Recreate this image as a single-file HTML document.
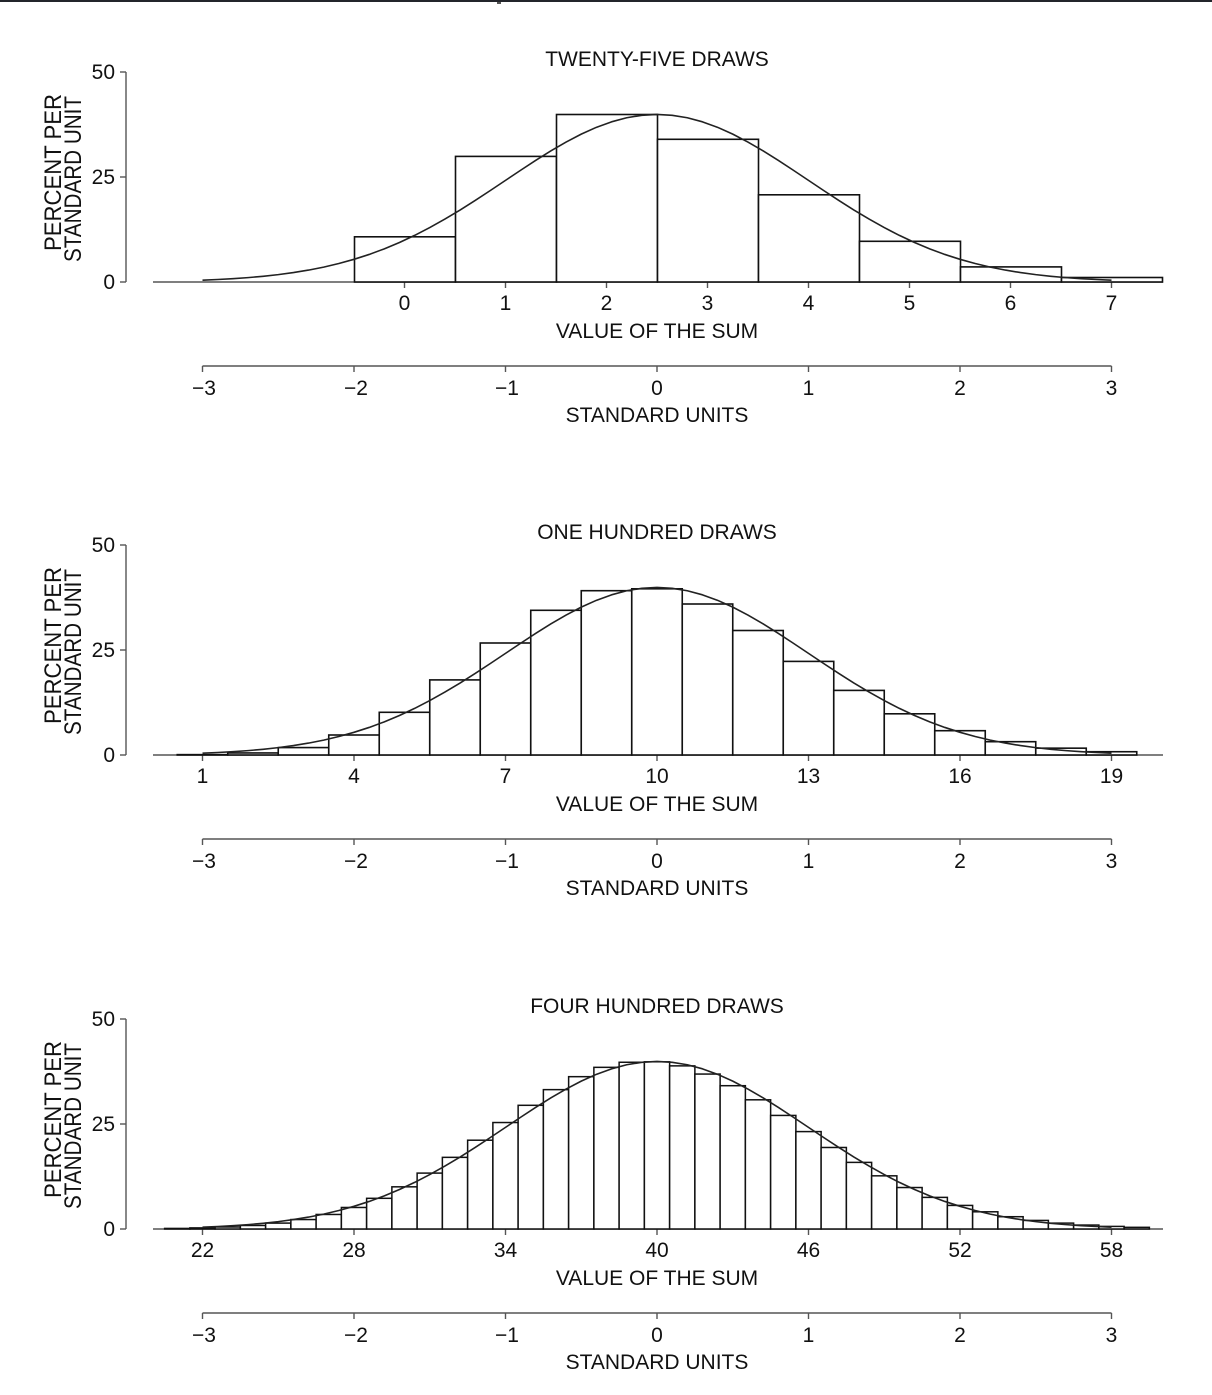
<!DOCTYPE html>
<html>
<head>
<meta charset="utf-8">
<style>
html,body{margin:0;padding:0;background:#fff;}
svg{display:block;}
text{font-family:"Liberation Sans",Arial,sans-serif;fill:#111;}
</style>
</head>
<body>
<svg width="1212" height="1395" viewBox="0 0 1212 1395" xmlns="http://www.w3.org/2000/svg">
<rect x="0" y="0" width="1212" height="1395" fill="#fff"/>
<rect x="0" y="0" width="1212" height="2" fill="#23252b"/>
<rect x="497" y="2" width="4" height="2" fill="#555"/>

<!-- ============ PANEL 1 ============ -->
<g transform="translate(0,282)">
  <text x="657" y="-216" font-size="21" text-anchor="middle">TWENTY-FIVE DRAWS</text>
  <g stroke="#555" stroke-width="1.4" fill="none">
    <line x1="126" y1="-210" x2="126" y2="0"/>
    <line x1="120" y1="-210" x2="126" y2="-210"/>
    <line x1="120" y1="-105" x2="126" y2="-105"/>
    <line x1="120" y1="0" x2="126" y2="0"/>
  </g>
  <g font-size="21" text-anchor="end">
    <text x="115" y="7">0</text>
    <text x="115" y="-98">25</text>
    <text x="115" y="-203">50</text>
  </g>
  <text transform="translate(61,-31) rotate(-90)" font-size="24" textLength="157" lengthAdjust="spacingAndGlyphs">PERCENT PER</text>
  <text transform="translate(81,-20) rotate(-90)" font-size="24" textLength="166" lengthAdjust="spacingAndGlyphs">STANDARD UNIT</text>
  <line x1="153" y1="0" x2="1163" y2="0" stroke="#555" stroke-width="1.4"/>
  <g stroke="#555" stroke-width="1.4">
    <line x1="404.5" y1="0" x2="404.5" y2="6"/><line x1="505.5" y1="0" x2="505.5" y2="6"/>
    <line x1="606.5" y1="0" x2="606.5" y2="6"/><line x1="707.5" y1="0" x2="707.5" y2="6"/>
    <line x1="808.5" y1="0" x2="808.5" y2="6"/><line x1="909.5" y1="0" x2="909.5" y2="6"/>
    <line x1="1010.5" y1="0" x2="1010.5" y2="6"/><line x1="1111.5" y1="0" x2="1111.5" y2="6"/>
  </g>
  <g fill="#fff" stroke="#111" stroke-width="1.6">
    <rect x="354.5" y="-45.2" width="101" height="45.2"/>
    <rect x="455.5" y="-125.6" width="101" height="125.6"/>
    <rect x="556.5" y="-167.5" width="101" height="167.5"/>
    <rect x="657.5" y="-142.7" width="101" height="142.7"/>
    <rect x="758.5" y="-87.2" width="101" height="87.2"/>
    <rect x="859.5" y="-40.7" width="101" height="40.7"/>
    <rect x="960.5" y="-15.1" width="101" height="15.1"/>
    <rect x="1061.5" y="-4.5" width="101" height="4.5"/>
  </g>
  <polyline transform="translate(657,0)" fill="none" stroke="#222" stroke-width="1.6" stroke-linejoin="round" points="-454.5,-1.86 -439.35,-2.50 -424.2,-3.32 -409.05,-4.38 -393.9,-5.71 -378.75,-7.36 -363.6,-9.40 -348.45,-11.90 -333.3,-14.90 -318.15,-18.47 -303,-22.68 -287.85,-27.56 -272.7,-33.16 -257.55,-39.50 -242.4,-46.59 -227.25,-54.40 -212.1,-62.89 -196.95,-71.98 -181.8,-81.56 -166.65,-91.50 -151.5,-101.63 -136.35,-111.76 -121.2,-121.67 -106.05,-131.15 -90.9,-139.95 -75.75,-147.87 -60.6,-154.67 -45.45,-160.18 -30.3,-164.24 -15.15,-166.72 0,-167.56 15.15,-166.72 30.3,-164.24 45.45,-160.18 60.6,-154.67 75.75,-147.87 90.9,-139.95 106.05,-131.15 121.2,-121.67 136.35,-111.76 151.5,-101.63 166.65,-91.50 181.8,-81.56 196.95,-71.98 212.1,-62.89 227.25,-54.40 242.4,-46.59 257.55,-39.50 272.7,-33.16 287.85,-27.56 303,-22.68 318.15,-18.47 333.3,-14.90 348.45,-11.90 363.6,-9.40 378.75,-7.36 393.9,-5.71 409.05,-4.38 424.2,-3.32 439.35,-2.50 454.5,-1.86"/>
  <g font-size="21" text-anchor="middle">
    <text x="404.5" y="28">0</text><text x="505.5" y="28">1</text>
    <text x="606.5" y="28">2</text><text x="707.5" y="28">3</text>
    <text x="808.5" y="28">4</text><text x="909.5" y="28">5</text>
    <text x="1010.5" y="28">6</text><text x="1111.5" y="28">7</text>
    <text x="657" y="56">VALUE OF THE SUM</text>
  </g>
  <g stroke="#555" stroke-width="1.4">
    <line x1="202.5" y1="84" x2="1111.5" y2="84"/>
    <line x1="202.5" y1="84" x2="202.5" y2="90"/><line x1="354" y1="84" x2="354" y2="90"/>
    <line x1="505.5" y1="84" x2="505.5" y2="90"/><line x1="657" y1="84" x2="657" y2="90"/>
    <line x1="808.5" y1="84" x2="808.5" y2="90"/><line x1="960" y1="84" x2="960" y2="90"/>
    <line x1="1111.5" y1="84" x2="1111.5" y2="90"/>
  </g>
  <g font-size="21" text-anchor="middle">
    <text x="204" y="113">−3</text><text x="356" y="113">−2</text>
    <text x="507" y="113">−1</text><text x="657" y="113">0</text>
    <text x="808.5" y="113">1</text><text x="960" y="113">2</text>
    <text x="1111.5" y="113">3</text>
    <text x="657" y="140">STANDARD UNITS</text>
  </g>
</g>

<!-- ============ PANEL 2 ============ -->
<g transform="translate(0,755)">
  <text x="657" y="-216" font-size="21" text-anchor="middle">ONE HUNDRED DRAWS</text>
  <g stroke="#555" stroke-width="1.4" fill="none">
    <line x1="126" y1="-210" x2="126" y2="0"/>
    <line x1="120" y1="-210" x2="126" y2="-210"/>
    <line x1="120" y1="-105" x2="126" y2="-105"/>
    <line x1="120" y1="0" x2="126" y2="0"/>
  </g>
  <g font-size="21" text-anchor="end">
    <text x="115" y="7">0</text>
    <text x="115" y="-98">25</text>
    <text x="115" y="-203">50</text>
  </g>
  <text transform="translate(61,-31) rotate(-90)" font-size="24" textLength="157" lengthAdjust="spacingAndGlyphs">PERCENT PER</text>
  <text transform="translate(81,-20) rotate(-90)" font-size="24" textLength="166" lengthAdjust="spacingAndGlyphs">STANDARD UNIT</text>
  <line x1="153" y1="0" x2="1163" y2="0" stroke="#555" stroke-width="1.4"/>
  <g stroke="#555" stroke-width="1.4">
    <line x1="202.5" y1="0" x2="202.5" y2="6"/><line x1="354" y1="0" x2="354" y2="6"/>
    <line x1="505.5" y1="0" x2="505.5" y2="6"/><line x1="657" y1="0" x2="657" y2="6"/>
    <line x1="808.5" y1="0" x2="808.5" y2="6"/><line x1="960" y1="0" x2="960" y2="6"/>
    <line x1="1111.5" y1="0" x2="1111.5" y2="6"/>
  </g>
  <g fill="#fff" stroke="#111" stroke-width="1.6">
    <rect x="177.25" y="-0.37" width="50.5" height="0.37"/>
    <rect x="227.75" y="-2.05" width="50.5" height="2.05"/>
    <rect x="278.25" y="-7.42" width="50.5" height="7.42"/>
    <rect x="328.75" y="-20.0" width="50.5" height="20.0"/>
    <rect x="379.25" y="-42.7" width="50.5" height="42.7"/>
    <rect x="429.75" y="-75.1" width="50.5" height="75.1"/>
    <rect x="480.25" y="-112.0" width="50.5" height="112.0"/>
    <rect x="530.75" y="-144.7" width="50.5" height="144.7"/>
    <rect x="581.25" y="-164.3" width="50.5" height="164.3"/>
    <rect x="631.75" y="-166.2" width="50.5" height="166.2"/>
    <rect x="682.25" y="-151.0" width="50.5" height="151.0"/>
    <rect x="732.75" y="-124.5" width="50.5" height="124.5"/>
    <rect x="783.25" y="-93.6" width="50.5" height="93.6"/>
    <rect x="833.75" y="-64.6" width="50.5" height="64.6"/>
    <rect x="884.25" y="-41.2" width="50.5" height="41.2"/>
    <rect x="934.75" y="-24.3" width="50.5" height="24.3"/>
    <rect x="985.25" y="-13.3" width="50.5" height="13.3"/>
    <rect x="1035.75" y="-6.83" width="50.5" height="6.83"/>
    <rect x="1086.25" y="-3.28" width="50.5" height="3.28"/>
  </g>
  <polyline transform="translate(657,0)" fill="none" stroke="#222" stroke-width="1.6" stroke-linejoin="round" points="-454.5,-1.86 -439.35,-2.50 -424.2,-3.32 -409.05,-4.38 -393.9,-5.71 -378.75,-7.36 -363.6,-9.40 -348.45,-11.90 -333.3,-14.90 -318.15,-18.47 -303,-22.68 -287.85,-27.56 -272.7,-33.16 -257.55,-39.50 -242.4,-46.59 -227.25,-54.40 -212.1,-62.89 -196.95,-71.98 -181.8,-81.56 -166.65,-91.50 -151.5,-101.63 -136.35,-111.76 -121.2,-121.67 -106.05,-131.15 -90.9,-139.95 -75.75,-147.87 -60.6,-154.67 -45.45,-160.18 -30.3,-164.24 -15.15,-166.72 0,-167.56 15.15,-166.72 30.3,-164.24 45.45,-160.18 60.6,-154.67 75.75,-147.87 90.9,-139.95 106.05,-131.15 121.2,-121.67 136.35,-111.76 151.5,-101.63 166.65,-91.50 181.8,-81.56 196.95,-71.98 212.1,-62.89 227.25,-54.40 242.4,-46.59 257.55,-39.50 272.7,-33.16 287.85,-27.56 303,-22.68 318.15,-18.47 333.3,-14.90 348.45,-11.90 363.6,-9.40 378.75,-7.36 393.9,-5.71 409.05,-4.38 424.2,-3.32 439.35,-2.50 454.5,-1.86"/>
  <g font-size="21" text-anchor="middle">
    <text x="202.5" y="28">1</text><text x="354" y="28">4</text>
    <text x="505.5" y="28">7</text><text x="657" y="28">10</text>
    <text x="808.5" y="28">13</text><text x="960" y="28">16</text>
    <text x="1111.5" y="28">19</text>
    <text x="657" y="56">VALUE OF THE SUM</text>
  </g>
  <g stroke="#555" stroke-width="1.4">
    <line x1="202.5" y1="84" x2="1111.5" y2="84"/>
    <line x1="202.5" y1="84" x2="202.5" y2="90"/><line x1="354" y1="84" x2="354" y2="90"/>
    <line x1="505.5" y1="84" x2="505.5" y2="90"/><line x1="657" y1="84" x2="657" y2="90"/>
    <line x1="808.5" y1="84" x2="808.5" y2="90"/><line x1="960" y1="84" x2="960" y2="90"/>
    <line x1="1111.5" y1="84" x2="1111.5" y2="90"/>
  </g>
  <g font-size="21" text-anchor="middle">
    <text x="204" y="113">−3</text><text x="356" y="113">−2</text>
    <text x="507" y="113">−1</text><text x="657" y="113">0</text>
    <text x="808.5" y="113">1</text><text x="960" y="113">2</text>
    <text x="1111.5" y="113">3</text>
    <text x="657" y="140">STANDARD UNITS</text>
  </g>
</g>

<!-- ============ PANEL 3 ============ -->
<g transform="translate(0,1229)">
  <text x="657" y="-216" font-size="21" text-anchor="middle">FOUR HUNDRED DRAWS</text>
  <g stroke="#555" stroke-width="1.4" fill="none">
    <line x1="126" y1="-210" x2="126" y2="0"/>
    <line x1="120" y1="-210" x2="126" y2="-210"/>
    <line x1="120" y1="-105" x2="126" y2="-105"/>
    <line x1="120" y1="0" x2="126" y2="0"/>
  </g>
  <g font-size="21" text-anchor="end">
    <text x="115" y="7">0</text>
    <text x="115" y="-98">25</text>
    <text x="115" y="-203">50</text>
  </g>
  <text transform="translate(61,-31) rotate(-90)" font-size="24" textLength="157" lengthAdjust="spacingAndGlyphs">PERCENT PER</text>
  <text transform="translate(81,-20) rotate(-90)" font-size="24" textLength="166" lengthAdjust="spacingAndGlyphs">STANDARD UNIT</text>
  <line x1="153" y1="0" x2="1163" y2="0" stroke="#555" stroke-width="1.4"/>
  <g stroke="#555" stroke-width="1.4">
    <line x1="202.5" y1="0" x2="202.5" y2="6"/><line x1="354" y1="0" x2="354" y2="6"/>
    <line x1="505.5" y1="0" x2="505.5" y2="6"/><line x1="657" y1="0" x2="657" y2="6"/>
    <line x1="808.5" y1="0" x2="808.5" y2="6"/><line x1="960" y1="0" x2="960" y2="6"/>
    <line x1="1111.5" y1="0" x2="1111.5" y2="6"/>
  </g>
  <g fill="#fff" stroke="#111" stroke-width="1.5">
    <rect x="164.625" y="-0.58" width="25.25" height="0.58"/>
    <rect x="189.875" y="-1.11" width="25.25" height="1.11"/>
    <rect x="215.125" y="-2.02" width="25.25" height="2.02"/>
    <rect x="240.375" y="-3.53" width="25.25" height="3.53"/>
    <rect x="265.625" y="-5.90" width="25.25" height="5.90"/>
    <rect x="290.875" y="-9.45" width="25.25" height="9.45"/>
    <rect x="316.125" y="-14.54" width="25.25" height="14.54"/>
    <rect x="341.375" y="-21.53" width="25.25" height="21.53"/>
    <rect x="366.625" y="-30.68" width="25.25" height="30.68"/>
    <rect x="391.875" y="-42.17" width="25.25" height="42.17"/>
    <rect x="417.125" y="-55.90" width="25.25" height="55.90"/>
    <rect x="442.375" y="-71.65" width="25.25" height="71.65"/>
    <rect x="467.625" y="-88.79" width="25.25" height="88.79"/>
    <rect x="492.875" y="-106.47" width="25.25" height="106.47"/>
    <rect x="518.125" y="-123.69" width="25.25" height="123.69"/>
    <rect x="543.375" y="-139.36" width="25.25" height="139.36"/>
    <rect x="568.625" y="-152.33" width="25.25" height="152.33"/>
    <rect x="593.875" y="-161.66" width="25.25" height="161.66"/>
    <rect x="619.125" y="-166.74" width="25.25" height="166.74"/>
    <rect x="644.375" y="-167.20" width="25.25" height="167.20"/>
    <rect x="669.625" y="-163.13" width="25.25" height="163.13"/>
    <rect x="694.875" y="-154.94" width="25.25" height="154.94"/>
    <rect x="720.125" y="-143.30" width="25.25" height="143.30"/>
    <rect x="745.375" y="-129.19" width="25.25" height="129.19"/>
    <rect x="770.625" y="-113.57" width="25.25" height="113.57"/>
    <rect x="795.875" y="-97.40" width="25.25" height="97.40"/>
    <rect x="821.125" y="-81.52" width="25.25" height="81.52"/>
    <rect x="846.375" y="-66.61" width="25.25" height="66.61"/>
    <rect x="871.625" y="-53.17" width="25.25" height="53.17"/>
    <rect x="896.875" y="-41.47" width="25.25" height="41.47"/>
    <rect x="922.125" y="-31.62" width="25.25" height="31.62"/>
    <rect x="947.375" y="-23.58" width="25.25" height="23.58"/>
    <rect x="972.625" y="-17.20" width="25.25" height="17.20"/>
    <rect x="997.875" y="-12.29" width="25.25" height="12.29"/>
    <rect x="1023.125" y="-8.58" width="25.25" height="8.58"/>
    <rect x="1048.375" y="-5.88" width="25.25" height="5.88"/>
    <rect x="1073.625" y="-3.94" width="25.25" height="3.94"/>
    <rect x="1098.875" y="-2.59" width="25.25" height="2.59"/>
    <rect x="1124.125" y="-1.67" width="25.25" height="1.67"/>
  </g>
  <polyline transform="translate(657,0)" fill="none" stroke="#222" stroke-width="1.6" stroke-linejoin="round" points="-454.5,-1.86 -439.35,-2.50 -424.2,-3.32 -409.05,-4.38 -393.9,-5.71 -378.75,-7.36 -363.6,-9.40 -348.45,-11.90 -333.3,-14.90 -318.15,-18.47 -303,-22.68 -287.85,-27.56 -272.7,-33.16 -257.55,-39.50 -242.4,-46.59 -227.25,-54.40 -212.1,-62.89 -196.95,-71.98 -181.8,-81.56 -166.65,-91.50 -151.5,-101.63 -136.35,-111.76 -121.2,-121.67 -106.05,-131.15 -90.9,-139.95 -75.75,-147.87 -60.6,-154.67 -45.45,-160.18 -30.3,-164.24 -15.15,-166.72 0,-167.56 15.15,-166.72 30.3,-164.24 45.45,-160.18 60.6,-154.67 75.75,-147.87 90.9,-139.95 106.05,-131.15 121.2,-121.67 136.35,-111.76 151.5,-101.63 166.65,-91.50 181.8,-81.56 196.95,-71.98 212.1,-62.89 227.25,-54.40 242.4,-46.59 257.55,-39.50 272.7,-33.16 287.85,-27.56 303,-22.68 318.15,-18.47 333.3,-14.90 348.45,-11.90 363.6,-9.40 378.75,-7.36 393.9,-5.71 409.05,-4.38 424.2,-3.32 439.35,-2.50 454.5,-1.86"/>
  <g font-size="21" text-anchor="middle">
    <text x="202.5" y="28">22</text><text x="354" y="28">28</text>
    <text x="505.5" y="28">34</text><text x="657" y="28">40</text>
    <text x="808.5" y="28">46</text><text x="960" y="28">52</text>
    <text x="1111.5" y="28">58</text>
    <text x="657" y="56">VALUE OF THE SUM</text>
  </g>
  <g stroke="#555" stroke-width="1.4">
    <line x1="202.5" y1="84" x2="1111.5" y2="84"/>
    <line x1="202.5" y1="84" x2="202.5" y2="90"/><line x1="354" y1="84" x2="354" y2="90"/>
    <line x1="505.5" y1="84" x2="505.5" y2="90"/><line x1="657" y1="84" x2="657" y2="90"/>
    <line x1="808.5" y1="84" x2="808.5" y2="90"/><line x1="960" y1="84" x2="960" y2="90"/>
    <line x1="1111.5" y1="84" x2="1111.5" y2="90"/>
  </g>
  <g font-size="21" text-anchor="middle">
    <text x="204" y="113">−3</text><text x="356" y="113">−2</text>
    <text x="507" y="113">−1</text><text x="657" y="113">0</text>
    <text x="808.5" y="113">1</text><text x="960" y="113">2</text>
    <text x="1111.5" y="113">3</text>
    <text x="657" y="140">STANDARD UNITS</text>
  </g>
</g>
</svg>
</body>
</html>
